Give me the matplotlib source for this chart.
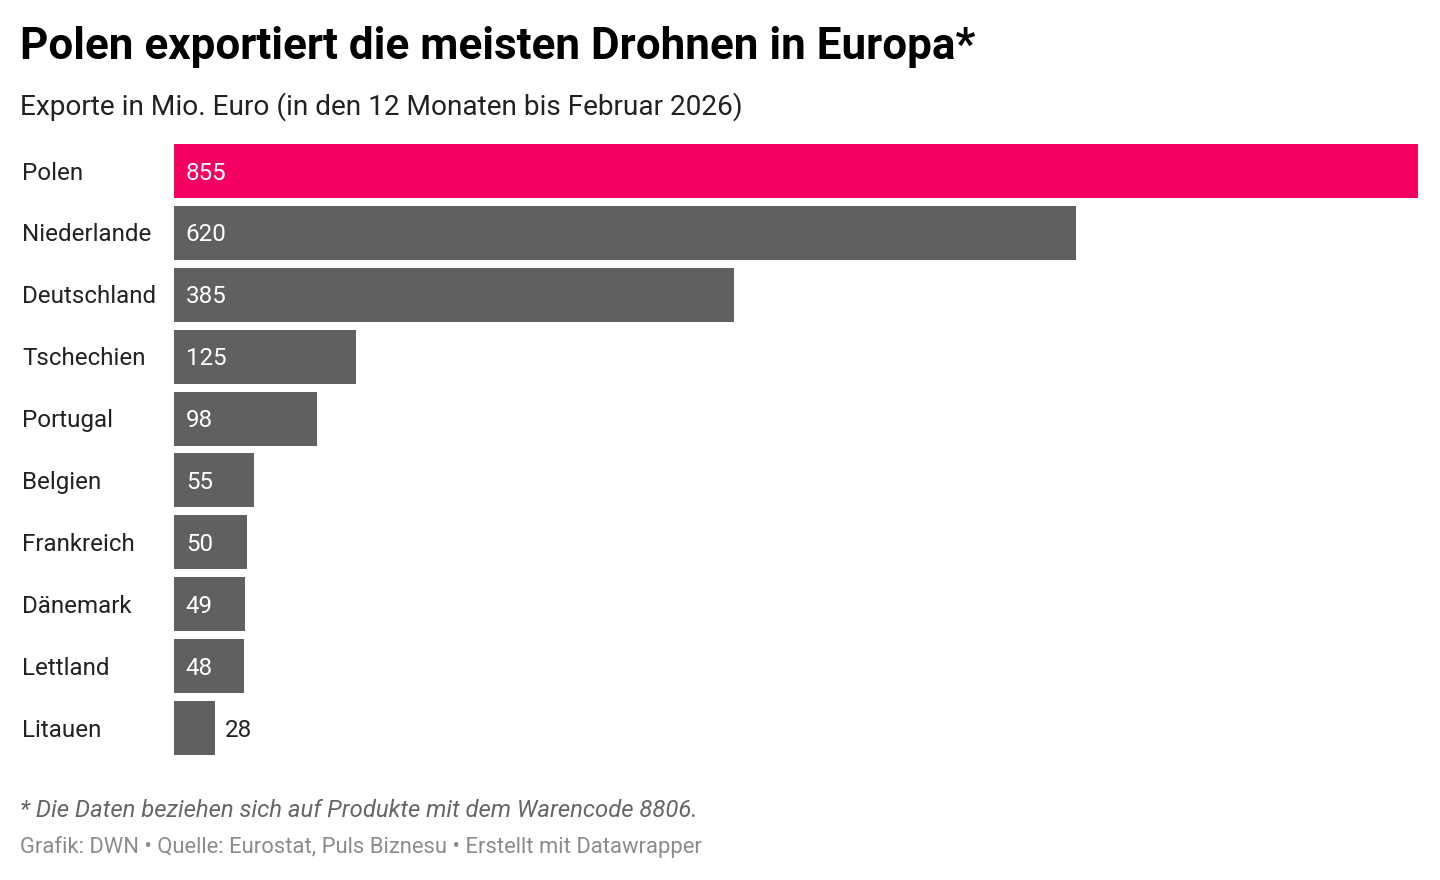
import matplotlib.pyplot as plt

# Daten
laender = ["Polen", "Niederlande", "Deutschland", "Tschechien", "Portugal",
           "Belgien", "Frankreich", "Dänemark", "Lettland", "Litauen"]
exporte = [855, 620, 385, 125, 98, 55, 50, 49, 48, 28]
farben = ["#f50062"] + ["#606060"] * 9

plt.rcParams['font.family'] = ['Roboto', 'DejaVu Sans']

fig = plt.figure(figsize=(14.4, 8.8), dpi=100)
W, H = 1440, 880
ax = fig.add_axes([174 / W, 125 / H, (1418 - 174) / W, (755 - 144) / H])

pos = list(range(len(laender)))
bh = 54 / 62
ax.barh(pos, exporte, height=bh, color=farben)
ax.set_xlim(0, max(exporte))
ax.set_ylim(len(laender) - 1 + bh / 2, -bh / 2)
ax.axis("off")

# Werte-Beschriftung
for i, v in enumerate(exporte):
    if v > 40:
        ax.annotate(str(v), (0, i), xytext=(8.5, -1.5), textcoords="offset points",
                    ha="left", va="center", color="white", fontsize=17.4)
    else:
        ax.annotate(str(v), (v, i), xytext=(7.5, -1.5), textcoords="offset points",
                    ha="left", va="center", color="#222222", fontsize=17.4)

# Kategorien links
for i, name in enumerate(laender):
    ax.annotate(name, (0, i), xycoords=("figure fraction", "data"),
                xytext=(22 / W, -1.5), textcoords=("figure fraction", "offset points"),
                ha="left", va="center", color="#222222", fontsize=17.4)

fig.text(20 / W, 1 - 47 / H, "Polen exportiert die meisten Drohnen in Europa*",
         fontsize=31.7, fontweight="bold", color="#000000", va="center")
fig.text(20 / W, 1 - 107 / H, "Exporte in Mio. Euro (in den 12 Monaten bis Februar 2026)",
         fontsize=20.2, color="#222222", va="center")
fig.text(20 / W, 1 - 810 / H, "* Die Daten beziehen sich auf Produkte mit dem Warencode 8806.",
         fontsize=17.2, style="italic", color="#666666", va="center")
fig.text(20 / W, 1 - 847 / H,
         "Grafik: DWN \u2022 Quelle: Eurostat, Puls Biznesu \u2022 Erstellt mit Datawrapper",
         fontsize=15.85, color="#8c8c8c", va="center")

fig.savefig("out.png", dpi=100)
